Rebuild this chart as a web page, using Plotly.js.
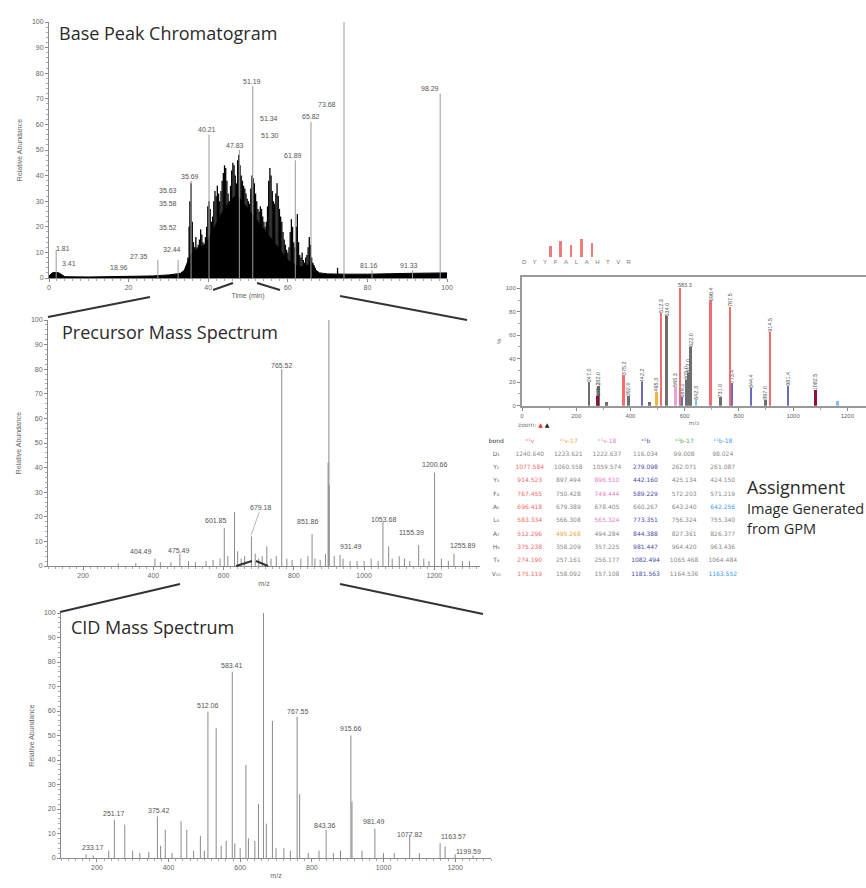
<!DOCTYPE html>
<html><head><meta charset="utf-8">
<script src="https://cdn.plot.ly/plotly-3.0.1.min.js"></script>
<style>html,body{margin:0;padding:0;background:#fff}#chart{width:866px;height:888px}</style>
</head><body><div id="chart"></div>
<script>
// ===== Base peak chromatogram (time in min, relative abundance %) =====
const chromEnvT = [0,0.8,1.5,2.5,3.5,4,10,20,26,30,33,34,35,36,37,38,39,40,41,42,43,44,45,46,47,48,49,50,51,52,53,54,55,56,57,58,59,60,61,62,63,64,65,66,67,68,69,70,75,80,90,100];
const chromEnvI = [0.8,2,2.2,2,1,0.5,0.4,0.6,0.8,1.2,1.8,3,7,10,11,12,13,15,18,21,24,27,29,31,32,31,29,27,25,23,21,19,17,15,13,11,9,7,6,5,4.5,4.5,5,6,3,2,1.8,1.6,1.5,1.5,1.8,2];
const chromSpikeT = [34.6,34.9,35.2,35.4,35.7,36.0,36.3,36.6,36.9,37.2,37.5,37.8,38.1,38.4,38.7,39.0,39.3,39.6,39.9,40.2,
  40.5,40.8,41.1,41.4,41.7,42.0,42.3,42.6,42.9,43.2,43.5,43.8,44.1,44.4,44.7,45.0,45.3,45.6,45.9,46.2,
  46.5,46.8,47.1,47.4,47.7,48.0,48.3,48.6,48.9,49.2,49.5,49.8,50.1,50.4,50.7,51.0,51.3,51.6,51.9,52.2,
  52.5,52.8,53.1,53.4,53.7,54.0,54.3,54.6,54.9,55.2,55.5,55.8,56.1,56.4,56.7,57.0,57.3,57.6,57.9,58.2,
  58.5,58.8,59.1,59.4,59.7,60.0,60.3,60.6,60.9,61.2,61.5,61.8,62.1,62.4,62.7,63.0,63.3,63.6,63.9,64.2,
  64.5,64.8,65.1,65.4,65.7,66.0,66.3,66.6,66.9,67.2,72.5];
const chromSpikeI = [5,8,20,30,37,22,14,12,16,12,13,15,19,17,14,13,16,20,28,30,
  27,22,24,30,34,32,36,33,30,34,38,41,44,43,38,33,30,36,42,45,
  44,40,37,46,48,44,40,38,36,35,33,31,30,29,35,40,39,37,33,30,
  27,26,28,27,24,22,20,22,28,38,43,40,34,30,29,33,37,32,27,24,
  22,18,15,13,11,10,12,18,23,20,14,12,20,25,14,9,8,10,7,6,
  8,9,12,16,13,8,6,5,4,3,4];
const chromPeakT = [1.81,27.35,32.44,35.69,40.21,47.83,51.19,61.89,65.82,74.12,81.16,91.33,98.29];
const chromPeakI = [11,7,7,38,56,50,75,46,61,100,3,3,72];
const chromLabText = ["74.12","98.29","51.19","73.68","65.82","51.34","51.30","40.21","47.83","61.89","35.69","35.63","35.58","35.52","32.44","27.35","18.96","1.81","3.41","81.16","91.33"];
const chromLabT = [74.3,95.8,51.0,69.9,65.8,55.2,55.6,39.6,46.8,61.3,35.5,30.0,30.0,30.0,30.8,22.7,17.7,3.4,4.9,80.3,90.4];
const chromLabI = [102.7,74,76.6,67.6,63,62.4,55.6,58.1,51.7,48,39.6,34,29.2,19.6,11,8.3,4,11.6,5.8,4.7,4.7];

// ===== Precursor mass spectrum (m/z, %) =====
const precMz = [300,350,404.5,420,450,475.5,500,520,550,570,590,601.9,612,631,640,650,660,679.2,690,700,710,723,735,750,765.5,780,795,820,840,851.9,860,875,890,897.5,899.8,900.5,915,931.5,940,960,980,1000,1020,1040,1053.7,1070,1080,1100,1115,1130,1155.4,1170,1185,1200.7,1220,1240,1255.9,1280,1300];
const precInt = [1,1.2,3,1.5,1.5,5,2,1.5,2,2.5,3,15.4,4,22,6,3,4,12,5,3,4,8,3,4,80,3,2.5,3,4,13,3,2.5,5,42,100,33,4,4.5,3,2,2,2,3,2,18,8,3,4,3,2,8.5,3,2,38,3,2,5,2,2];
const precLabText = ["404.49","475.49","601.85","765.52","851.86","931.49","1053.68","1155.39","1200.66","1255.89"];
const precLabMz = [365,473.6,577,766,841.5,962,1056.6,1134,1200,1280];
const precLabI = [5.7,6.1,18.3,81.6,17.9,8,19,13.8,41.2,8.4];

// ===== CID mass spectrum (m/z, %) =====
const cidMz = [170,190,233.2,249,278,300,320,345,369,378,391,410,435,451,470,489,500,510,533,547,561,578,585,600,616,623,641,651,665,673,690,700,722,740,759,766,790,820,840,860,880,909,912,940,976,1000,1030,1073,1100,1158,1172,1200,1250];
const cidInt = [1.5,1,3,15.6,13.6,3,2,2.5,17,5,11.5,2,15,11.5,3,9,3,59.7,53,5,7,76,6,4,38,8,7,22,100,14,56,4,4,3,57.7,26,2,3,11.5,2,3,50,23,3,12,2,2,9.5,2,6,4.7,1.5,1];
const cidLabText = ["233.17","251.17","375.42","512.06","583.41","767.55","915.66","843.36","981.49","1077.82","1163.57","1199.59"];
const cidLabMz = [190.6,247,373.7,509.9,578.4,761.5,909,836.6,974.6,1073,1195,1237.6];
const cidLabI = [4.1,18,19.4,62.4,78.7,59.7,52.9,13.3,14.9,9.5,8.8,2.7];

// ===== GPM assignment spectrum (m/z, %, ion type) =====
const asgMz  = [247,282,312,392,470,534,605,612,622,731,897,279.1,375.2,442.2,495.3,512.3,565.3,583.3,589.2,642.3,696.4,767.5,773.4,844.4,914.5,981.4,1082.5,1163.6];
const asgInt = [20,17,3,8,3,76,22,28,50,7,5,8,26,20,12,79,16,100,7,5,89,84,19,15,63,17,13,4];
const asgType = ['u','u','u','u','u','u','u','u','u','u','u','bm','y','b','y17','y','y18','y','b','b18','y','y','b','b','y','b','bm','b18'];

// sequence coverage mini plot
const seqRes = ['D','Y','Y','F','A','L','A','H','T','V','R'];
const seqBond = [2,3,4,5,6];
const seqBondI = [8,12,9,13,10];

// fragment table
const tblBond = ['D₁','Y₂','Y₃','F₄','A₅','L₆','A₇','H₈','T₉','V₁₀'];
const tblHead = ['bond','⁺¹y','⁺¹y-17','⁺¹y-18','⁺¹b','⁺¹b-17','⁺¹b-18'];
const tblY   = ['1240.640','1077.584','914.523','767.455','696.418','583.334','512.296','375.238','274.190','175.119'];
const tblY17 = ['1223.621','1060.558','897.494','750.428','679.389','566.308','495.268','358.209','257.161','158.092'];
const tblY18 = ['1222.637','1059.574','896.510','749.444','678.405','565.324','494.284','357.225','256.177','157.108'];
const tblB   = ['116.034','279.098','442.160','589.229','660.267','773.351','844.388','981.447','1082.494','1181.563'];
const tblB17 = ['99.008','262.071','425.134','572.203','643.240','756.324','827.361','964.420','1065.468','1164.536'];
const tblB18 = ['98.024','261.087','424.150','571.219','642.256','755.340','826.377','963.436','1064.484','1163.552'];
const tblMatch = [
  [0,1,1,1,1,1,1,1,1,1],
  [0,0,0,0,0,0,1,0,0,0],
  [0,0,1,1,0,1,0,0,0,0],
  [0,1,1,1,0,1,1,1,1,1],
  [0,0,0,0,0,0,0,0,0,0],
  [0,0,0,0,1,0,0,0,0,1]
];

// ---------- drawing ----------
function sticks(xs, ys){const X=[],Y=[];xs.forEach((x,i)=>{X.push(x,x,null);Y.push(0,ys[i],null);});return {X,Y};}
const W=866,H=888;
const px=(x)=>x/W, py=(y)=>1-y/H;

const traces=[];
traces.push({type:'scatter',mode:'lines',x:chromEnvT,y:chromEnvI,fill:'tozeroy',fillcolor:'#000',line:{color:'#000',width:1},xaxis:'x',yaxis:'y',hoverinfo:'skip'});
let s=sticks(chromSpikeT,chromSpikeI);
traces.push({type:'scatter',mode:'lines',x:s.X,y:s.Y,line:{color:'#000',width:1.3},xaxis:'x',yaxis:'y',hoverinfo:'skip'});
s=sticks(chromPeakT,chromPeakI);
traces.push({type:'scatter',mode:'lines',x:s.X,y:s.Y,line:{color:'#9a9a9a',width:1},xaxis:'x',yaxis:'y',hoverinfo:'skip'});
s=sticks(precMz,precInt);
traces.push({type:'scatter',mode:'lines',x:s.X,y:s.Y,line:{color:'#8a8a8a',width:1},xaxis:'x2',yaxis:'y2',hoverinfo:'skip'});
s=sticks(cidMz,cidInt);
traces.push({type:'scatter',mode:'lines',x:s.X,y:s.Y,line:{color:'#8a8a8a',width:1},xaxis:'x3',yaxis:'y3',hoverinfo:'skip'});

const typeColor={u:'#6e6e6e',y:'#f26d6d',b:'#6b6bc0',y17:'#f2b43c',y18:'#eaa2cf',b18:'#7cc3f2',bm:'#8e0f3c'};
['u','y17','y18','b18','b','bm','y'].forEach(t=>{
  const lx=[],ly=[],lt=[],nx=[],ny=[];
  asgMz.forEach((m,i)=>{if(asgType[i]!==t)return; const v=asgInt[i];
    if(v>=5&&v<100){lx.push(m);ly.push(v);lt.push(m.toFixed(1));}else{nx.push(m);ny.push(v);}});
  if(nx.length) traces.push({type:'bar',x:nx,y:ny,width:10,marker:{color:typeColor[t],line:{width:0}},xaxis:'x4',yaxis:'y4',hoverinfo:'skip'});
  if(lx.length) traces.push({type:'bar',x:lx,y:ly,width:10,marker:{color:typeColor[t],line:{width:0}},text:lt,textposition:'outside',textangle:-90,
    constraintext:'none',cliponaxis:false,textfont:{size:5.5,color:'#555',family:'Liberation Sans'},xaxis:'x4',yaxis:'y4',hoverinfo:'skip'});
});
traces.push({type:'bar',x:seqBond.map(b=>b+0.5),y:seqBondI,width:0.25,marker:{color:'#f07a7a'},xaxis:'x5',yaxis:'y5',hoverinfo:'skip'});

// table: header row placed as first cell row so all rows share one height
const tblColors=['#f26d6d','#f2a43c','#e27fc0','#4a4aa8','#5aa85a','#3b9cf0'];
const cols=[tblBond,tblY,tblY17,tblY18,tblB,tblB17,tblB18].map((c,j)=>[tblHead[j]].concat(c));
const fontCols=[['#333'].concat(tblBond.map(()=> '#666'))].concat(tblMatch.map((col,j)=>[tblColors[j]].concat(col.map(v=>v?tblColors[j]:'#8a8a8a'))));
traces.push({type:'table',domain:{x:[px(482),px(742)],y:[py(584),py(414)]},columnwidth:[28,38,38,38,38,38,38],
  header:{values:[],height:1,fill:{color:'rgba(0,0,0,0)'},line:{color:'rgba(0,0,0,0)',width:0}},
  cells:{values:cols,height:13.3,align:'center',fill:{color:'#fff'},line:{color:'#fff',width:0},
    font:{size:6,family:'DejaVu Sans',color:fontCols}}});

const tf={size:7,color:'#666',family:'Liberation Sans'};
const baseAx={showline:true,linecolor:'#8a8a8a',linewidth:1,ticks:'outside',ticklen:3,tickcolor:'#8a8a8a',tickfont:tf,showgrid:false,zeroline:false};
const mn=(d)=>({ticks:'outside',ticklen:2,tickcolor:'#aaa',dtick:d});
const layout={width:W,height:H,margin:{l:0,r:0,t:0,b:0},paper_bgcolor:'#fff',plot_bgcolor:'rgba(0,0,0,0)',showlegend:false,bargap:0,barmode:'overlay',
  xaxis:Object.assign({},baseAx,{domain:[px(49),px(447)],range:[0,100],anchor:'y',dtick:20,minor:mn(2),title:{text:'Time (min)',font:tf,standoff:2}}),
  yaxis:Object.assign({},baseAx,{domain:[py(278),py(22)],range:[0,100],anchor:'x',dtick:10,minor:mn(2),title:{text:'Relative Abundance',font:tf,standoff:8}}),
  xaxis2:Object.assign({},baseAx,{domain:[px(48),px(480)],range:[100,1330],anchor:'y2',tick0:0,dtick:200,minor:mn(20),title:{text:'m/z',font:tf,standoff:2}}),
  yaxis2:Object.assign({},baseAx,{domain:[py(566),py(320)],range:[0,100],anchor:'x2',dtick:10,minor:mn(2),title:{text:'Relative Abundance',font:tf,standoff:8}}),
  xaxis3:Object.assign({},baseAx,{domain:[px(61),px(491)],range:[100,1300],anchor:'y3',tick0:0,dtick:200,minor:mn(20),title:{text:'m/z',font:tf,standoff:2}}),
  yaxis3:Object.assign({},baseAx,{domain:[py(858),py(613)],range:[0,100],anchor:'x3',dtick:10,minor:mn(2),title:{text:'Relative Abundance',font:tf,standoff:8}}),
  xaxis4:Object.assign({},baseAx,{domain:[px(522),1],range:[0,1269],anchor:'y4',dtick:200,mirror:true,linewidth:2,linecolor:'#999',tickfont:{size:6,color:'#666',family:'Liberation Sans'},
    minor:mn(100),title:{text:'m/z',font:{size:6,color:'#666'},standoff:2}}),
  yaxis4:Object.assign({},baseAx,{domain:[py(405.7),py(277)],range:[0,109.6],anchor:'x4',tickvals:[0,20,40,60,80,100],mirror:true,linewidth:2,linecolor:'#999',
    tickfont:{size:6,color:'#666',family:'Liberation Sans'},minor:mn(10),title:{text:'%',font:{size:6,color:'#666'},standoff:4}}),
  xaxis5:{domain:[px(521),px(636)],range:[-0.3,10.7],anchor:'y5',showline:false,showgrid:false,zeroline:false,ticks:'',tickvals:seqRes.map((r,i)=>i),ticktext:seqRes,
    tickfont:{size:6,color:'#777',family:'Liberation Sans'}},
  yaxis5:{domain:[py(257),py(238)],range:[0,14],anchor:'x5',visible:false},
  annotations:[],shapes:[]
};
const A=layout.annotations;
const titleFont={family:'Open Sans',size:18,color:'#2a2a2a'};
A.push({xref:'paper',yref:'paper',x:px(57),y:py(33),xanchor:'left',yanchor:'middle',text:'Base Peak Chromatogram',showarrow:false,font:titleFont});
A.push({xref:'paper',yref:'paper',x:px(60),y:py(332),xanchor:'left',yanchor:'middle',text:'Precursor Mass Spectrum',showarrow:false,font:titleFont});
A.push({xref:'paper',yref:'paper',x:px(69),y:py(627),xanchor:'left',yanchor:'middle',text:'CID Mass Spectrum',showarrow:false,font:titleFont});
A.push({xref:'paper',yref:'paper',x:px(745),y:py(487),xanchor:'left',yanchor:'middle',text:'Assignment',showarrow:false,font:{family:'Open Sans',size:18,color:'#2a2a2a'}});
A.push({xref:'paper',yref:'paper',x:px(745),y:py(508),xanchor:'left',yanchor:'middle',text:'Image Generated',showarrow:false,font:{family:'Open Sans',size:14.5,color:'#2a2a2a'}});
A.push({xref:'paper',yref:'paper',x:px(745),y:py(528),xanchor:'left',yanchor:'middle',text:'from GPM',showarrow:false,font:{family:'Open Sans',size:14.5,color:'#2a2a2a'}});
const lf={size:7,color:'#555',family:'Liberation Sans'};
chromLabText.forEach((t,i)=>A.push({xref:'x',yref:'y',x:chromLabT[i],y:chromLabI[i],text:t,showarrow:false,font:lf}));
precLabText.forEach((t,i)=>A.push({xref:'x2',yref:'y2',x:precLabMz[i],y:precLabI[i],text:t,showarrow:false,font:lf}));
A.push({xref:'x2',yref:'y2',x:678,y:12.5,ax:10,ay:-28,text:'679.18',showarrow:true,arrowhead:0,arrowwidth:0.7,arrowcolor:'#999',font:lf});
cidLabText.forEach((t,i)=>A.push({xref:'x3',yref:'y3',x:cidLabMz[i],y:cidLabI[i],text:t,showarrow:false,font:lf}));
A.push({xref:'x4',yref:'y4',x:601,y:102.8,text:'583.3',showarrow:false,font:{size:5.5,color:'#555',family:'Liberation Sans'}});
A.push({xref:'paper',yref:'paper',x:px(516),y:py(424),xanchor:'left',text:'zoom: <span style="color:#e33">▲</span> <span style="color:#222">▲</span>',showarrow:false,font:{size:6,color:'#777',family:'DejaVu Sans'}});

// connector lines (zoom indicators)
const L=(x0,y0,x1,y1)=>({type:'line',xref:'paper',yref:'paper',x0:px(x0),y0:py(y0),x1:px(x1),y1:py(y1),line:{color:'#333',width:2}});
layout.shapes.push(L(48,317,150,297),L(467,320,340,296),L(213,290,233,283),L(257,283,280,290));
layout.shapes.push(L(60,612,180,584),L(483,614,340,584),L(236,566,252,561),L(256,561,268,566));

Plotly.newPlot('chart',traces,layout,{staticPlot:true});
</script></body></html>
